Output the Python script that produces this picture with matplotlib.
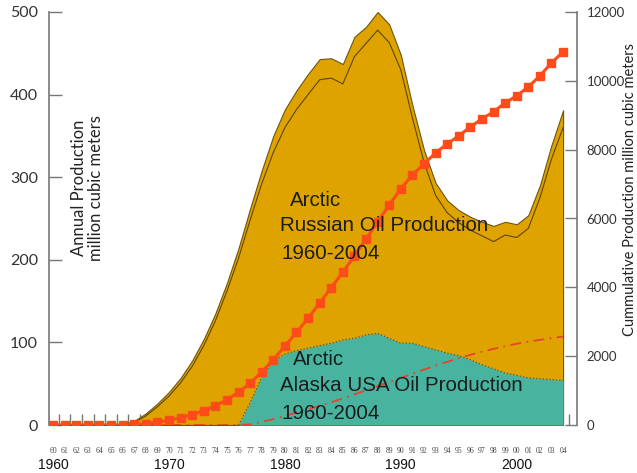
import numpy as np
import matplotlib.pyplot as plt
from matplotlib.transforms import blended_transform_factory

years = np.arange(1960, 2005)

# annual production, million cubic meters
russia_top = [0, 0, 0, 0, 0, 0, 1, 5, 14, 26,
              40, 57, 78, 104, 135, 172, 214, 262, 308, 350,
              382, 405, 425, 443, 444, 437, 470, 482, 500, 485,
              448, 387, 333, 293, 272, 260, 252, 246, 241, 246,
              243, 254, 290, 339, 381]
russia_inner = [0, 0, 0, 0, 0, 0, 0, 3, 11, 22,
                35, 51, 71, 96, 126, 162, 202, 248, 292, 330,
                360, 382, 400, 418, 420, 413, 446, 462, 478, 463,
                430, 372, 318, 278, 257, 245, 236, 229, 222, 230,
                227, 238, 275, 322, 360]
alaska = [0, 0, 0, 0, 0, 0, 0, 0, 0, 0,
          0, 0, 0, 0, 0, 0, 0, 27, 58, 78,
          86, 90, 93, 96, 99, 103, 105, 109, 111, 105,
          99, 99, 95, 91, 87, 84, 79, 73, 68, 63,
          60, 57, 56, 55, 54]

# cumulative production, million cubic meters
russia_cum = [0, 0, 0, 0, 0, 0, 0, 15, 40, 80,
              140, 210, 300, 420, 560, 730, 950, 1210, 1540, 1900,
              2290, 2690, 3100, 3540, 3990, 4440, 4910, 5400, 5900, 6390,
              6860, 7267, 7587, 7907, 8169, 8401, 8663, 8895, 9099, 9360,
              9564, 9826, 10145, 10523, 10843]
alaska_cum = [0, 0, 0, 0, 0, 0, 0, 0, 0, 0,
              0, 0, 0, 0, 0, 0, 0, 20, 90, 170,
              265, 360, 455, 555, 660, 775, 890, 1010, 1130, 1250,
              1370, 1490, 1610, 1725, 1835, 1940, 2040, 2130, 2210, 2290,
              2360, 2420, 2475, 2525, 2570]

year_labels = ["%02d" % (y % 100) for y in years]
decades = [1960, 1970, 1980, 1990, 2000]

GOLD = "#dfa300"
TEAL = "#48b4a0"
RED = "#ff4a1a"
GRAY = "#777777"
SANS = "Liberation Sans"
AXFONT = "Lato"

fig = plt.figure(figsize=(6.37, 4.73), dpi=100)
ax = fig.add_axes([49 / 637, 1 - 425 / 473, 528 / 637, 413 / 473])
ax.set_axisbelow(True)

ax.fill_between(years, russia_top, color=GOLD, edgecolor="#6b5510", linewidth=0.8)
ax.plot(years, russia_inner, color="#5a4610", linewidth=0.8)
ax.fill_between(years, alaska, color=TEAL, linewidth=0)
ax.plot(years[16:], alaska[16:], color="#3d5d56", linewidth=0.9, linestyle=":")

ax.set_xlim(1959.65, 2005.2)
ax.set_ylim(0, 500)
ax.set_yticks(range(0, 501, 100))
ax.set_xticks(years)
ax.set_xticklabels(year_labels, family="Liberation Serif", fontsize=5.5, color="#444444")
ax.set_xticks(years + 0.5, minor=True)
ax.tick_params(axis="x", which="major", length=0, pad=16)
ax.tick_params(axis="x", which="minor", direction="in", length=8, width=1, color=GRAY)
ax.tick_params(axis="y", direction="in", length=9, width=1, color=GRAY,
               pad=8, labelsize=11.5, labelcolor="#333333")
for lab in ax.get_yticklabels():
    lab.set_family(AXFONT)
for side in ["top", "bottom", "right"]:
    ax.spines[side].set_visible(False)
ax.spines["left"].set_color(GRAY)
ax.spines["left"].set_linewidth(1.2)

ax2 = ax.twinx()
ax2.plot(years, alaska_cum, color="#e8432b", linewidth=1.3, linestyle=(0, (6, 3, 1, 3)))
ax2.plot(years, russia_cum, color=RED, linewidth=2.2, marker="s", markersize=6.2)
ax2.set_ylim(0, 12000)
ax2.set_yticks(range(0, 12001, 2000))
ax2.tick_params(axis="y", direction="in", length=9, width=1, color=GRAY,
                pad=7, labelsize=9.5, labelcolor="#333333")
for lab in ax2.get_yticklabels():
    lab.set_family(AXFONT)
for side in ["top", "bottom", "left"]:
    ax2.spines[side].set_visible(False)
ax2.spines["right"].set_color(GRAY)
ax2.spines["right"].set_linewidth(1.2)

# decade labels under the year numbers
trans = blended_transform_factory(ax.transData, ax.transAxes)
for d in decades:
    ax.text(d, -0.097, str(d), transform=trans, ha="center", va="center",
            fontsize=10, family=SANS, color="#111111")

# region labels
txt = dict(family=SANS, fontsize=14.8, color="#1c1c1c", va="center", ha="left")
ax2.text(1980.45, 272 * 24, "Arctic", **txt)
ax2.text(1979.58, 242 * 24, "Russian Oil Production", **txt)
ax2.text(1979.75, 208 * 24, "1960-2004", **txt)
ax2.text(1980.7, 79 * 24, "Arctic", **txt)
ax2.text(1979.58, 48 * 24, "Alaska USA Oil Production", **txt)
ax2.text(1979.75, 14.5 * 24, "1960-2004", **txt)

ax2.text(1963.0, 287 * 24, "Annual Production\nmillion cubic meters", rotation=90,
         ha="center", va="center", multialignment="center", family=AXFONT,
         fontsize=12, color="#222222", linespacing=1.1)
fig.text(630 / 637, 1 - 190 / 473, "Cummulative Production million cubic meters",
         rotation=90, ha="center", va="center", family=AXFONT,
         fontsize=10.5, color="#222222")

fig.savefig("out.png", dpi=100)
